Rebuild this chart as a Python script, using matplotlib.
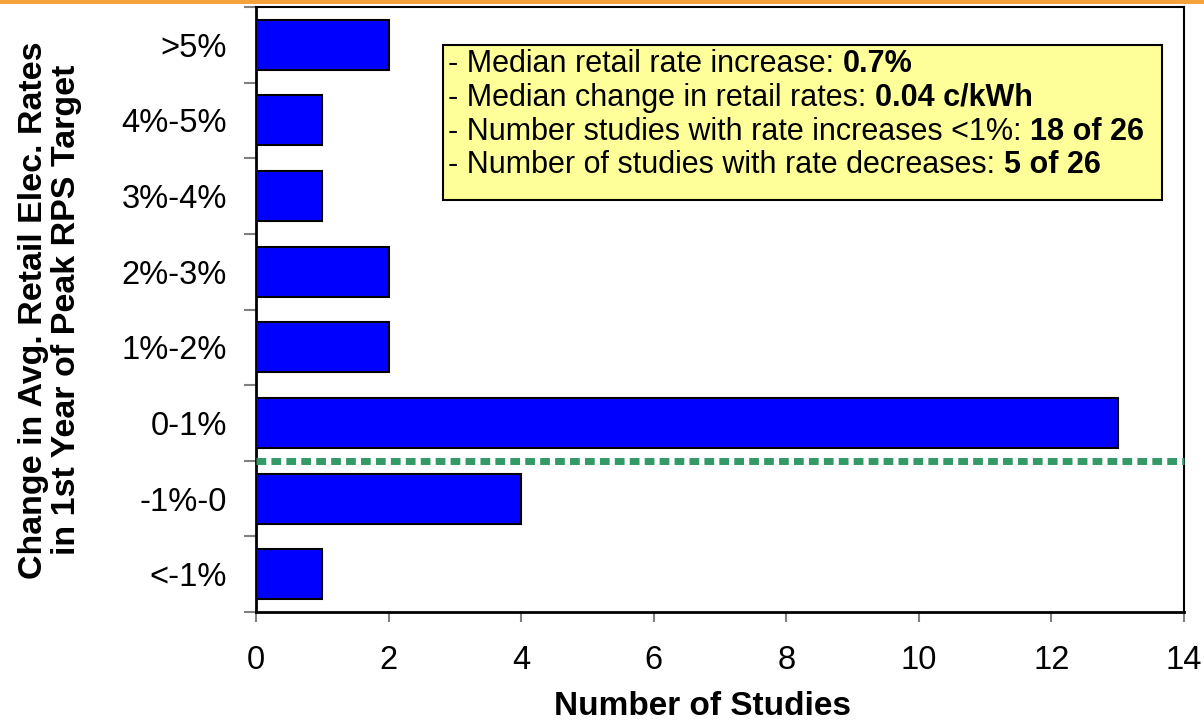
import numpy as np
import matplotlib.pyplot as plt
from matplotlib.patches import Rectangle

# data (bottom to top)
categories = ['<-1%', '-1%-0', '0-1%', '1%-2%', '2%-3%', '3%-4%', '4%-5%', '>5%']
n_studies = [1, 4, 13, 2, 2, 1, 1, 2]
x_ticks = [0, 2, 4, 6, 8, 10, 12, 14]
zero_line = 1.5  # boundary between decreases and increases

box_lines = [
    ('- Median retail rate increase: ', '0.7%'),
    ('- Median change in retail rates: ', '0.04 c/kWh'),
    ('- Number studies with rate increases <1%: ', '18 of 26'),
    ('- Number of studies with rate decreases: ', '5 of 26'),
]

plt.rcParams['font.family'] = ['Liberation Sans', 'DejaVu Sans']

fig = plt.figure(figsize=(12.04, 7.26), dpi=100)
ax = fig.add_axes([256/1204, 1-612/726, 928/1204, 605/726])

# orange band on top of slide
fig.add_artist(Rectangle((0, 1-4/726), 1, 4/726, transform=fig.transFigure,
                         color='#F5A23C', lw=0))

y = np.arange(len(categories))
ax.barh(y, n_studies, height=0.66, color='#0000FF', edgecolor='black', linewidth=1.5, zorder=3)
ax.plot([0, 14], [zero_line, zero_line], color='#339966', lw=5, dashes=(1.4, 0.75),
        solid_capstyle='butt', dash_capstyle='butt', zorder=4, clip_on=False)

ax.set_xlim(0, 14)
ax.set_ylim(-0.5, len(categories) - 0.5)
ax.set_xticks(x_ticks)
ax.set_xticklabels([str(v) for v in x_ticks], fontsize=23.5)
ax.tick_params(axis='x', direction='out', length=7, width=1.5, color='#808080', pad=17)

# category labels centred in slots, ticks on the boundaries
ax.set_yticks(np.arange(len(categories) + 1) - 0.5)
ax.set_yticklabels([])
ax.set_yticks(y, minor=True)
ax.set_yticklabels(categories, minor=True, fontsize=23.5)
ax.tick_params(axis='y', which='major', direction='out', length=9, width=1.5, color='#808080')
ax.tick_params(axis='y', which='minor', length=0, pad=21)

for s in ax.spines.values():
    s.set_linewidth(1.5)
    s.set_color('black')
ax.spines['left'].set_linewidth(2)
ax.spines['bottom'].set_linewidth(2)

fig.text(703/1204, 11/726, 'Number of Studies', fontsize=24, fontweight='bold',
         ha='center', va='baseline')
fig.text(50/1204, 1-310/726, 'Change in Avg. Retail Elec. Rates\nin 1st Year of Peak RPS Target',
         rotation=90, fontsize=24.5, fontweight='bold', ha='center', va='center',
         multialignment='center', linespacing=1.1)

# summary box
ax.add_patch(Rectangle((0.2015, 0.681), 0.775, 0.256, transform=ax.transAxes,
                       facecolor='#FFFF99', edgecolor='black', linewidth=1.5, zorder=5))
box_y = [0.906, 0.850, 0.794, 0.739]
for (plain, bold), yy in zip(box_lines, box_y):
    t = ax.text(0.207, yy, plain, transform=ax.transAxes, fontsize=22,
                va='center', ha='left', zorder=6)
    ax.annotate(bold, xy=(1, 0.5), xycoords=t, va='center', ha='left', fontsize=22,
                fontweight='bold', zorder=6)

fig.savefig('out.png', dpi=100)
